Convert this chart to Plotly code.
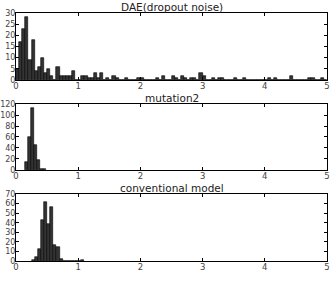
import plotly.graph_objects as go

bin_width = 0.05

# DAE(dropout noise): bins start at 0.0
dae_start = 0.0
dae_counts = [5, 17, 23, 28, 9, 18, 4, 6, 10, 3, 5, 2, 0, 6, 2, 2, 2, 2, 4, 0,
              0, 2, 2, 1, 1, 3, 1, 3, 0, 1, 0, 2, 1, 0, 0, 1, 0, 0, 0, 1,
              1, 0, 0, 0, 0, 1, 0, 2, 0, 0, 2, 1, 0, 2, 1, 0, 1, 1, 0, 3,
              2, 0, 0, 1, 0, 1, 1, 0, 0, 0, 1, 0, 0, 1, 0, 0, 0, 0, 0, 0,
              0, 1, 0, 1, 0, 0, 0, 0, 2, 0, 0, 0, 0, 0, 1, 1, 0, 0, 1, 0]

# mutation2: bins start at 0.14
mut_start = 0.14
mut_counts = [15, 60, 112, 45, 18, 2, 1]

# conventional model: bins start at 0.25
conv_start = 0.25
conv_counts = [1, 4, 13, 43, 62, 39, 56, 17, 15, 2, 0, 0, 0, 0, 0, 0, 1]

titles = ["DAE(dropout noise)", "mutation2", "conventional model"]
y_ranges = [[0, 30], [0, 120], [0, 70]]
y_dticks = [5, 20, 10]
x_ticks = [0, 1, 2, 3, 4, 5]

series = [(dae_start, dae_counts), (mut_start, mut_counts), (conv_start, conv_counts)]
domains = [[0.730, 1.0], [0.367, 0.633], [0.0, 0.270]]

fig = go.Figure()
font_fam = "DejaVu Sans"
tick_col = "#444444"

for i, (start, counts) in enumerate(series):
    xs = [start + bin_width * (k + 0.5) for k in range(len(counts))]
    ax = "" if i == 0 else str(i + 1)
    fig.add_trace(go.Bar(
        x=xs, y=counts, width=bin_width,
        marker=dict(color="#333333", line=dict(color="#000000", width=0.6)),
        xaxis="x" + ax, yaxis="y" + ax, showlegend=False,
    ))
    common = dict(showline=True, linecolor="#000000", linewidth=1, mirror="ticks",
                  ticks="inside", ticklen=3, tickcolor="#000000", showgrid=False,
                  zeroline=False, automargin=False)
    fig.layout["xaxis" + ax] = dict(range=[0, 5], tickvals=x_ticks, anchor="y" + ax,
                                    domain=[0, 1], ticklabelstandoff=-2,
                                    tickfont=dict(family=font_fam, size=8.5, color=tick_col),
                                    **common)
    fig.layout["yaxis" + ax] = dict(range=y_ranges[i], dtick=y_dticks[i], anchor="x" + ax,
                                    domain=domains[i], ticklabelstandoff=-2,
                                    tickfont=dict(family=font_fam, size=8, color=tick_col),
                                    **common)
    fig.add_annotation(text=titles[i], x=0.5, y=domains[i][1], xref="paper", yref="paper",
                       xanchor="center", yanchor="bottom", showarrow=False, yshift=-2,
                       font=dict(family=font_fam, size=10.5, color="#222222"))

fig.update_layout(width=333, height=286, margin=dict(l=16, r=6, t=13, b=25),
                  paper_bgcolor="white", plot_bgcolor="white", bargap=0)
fig.write_html("out.html")
